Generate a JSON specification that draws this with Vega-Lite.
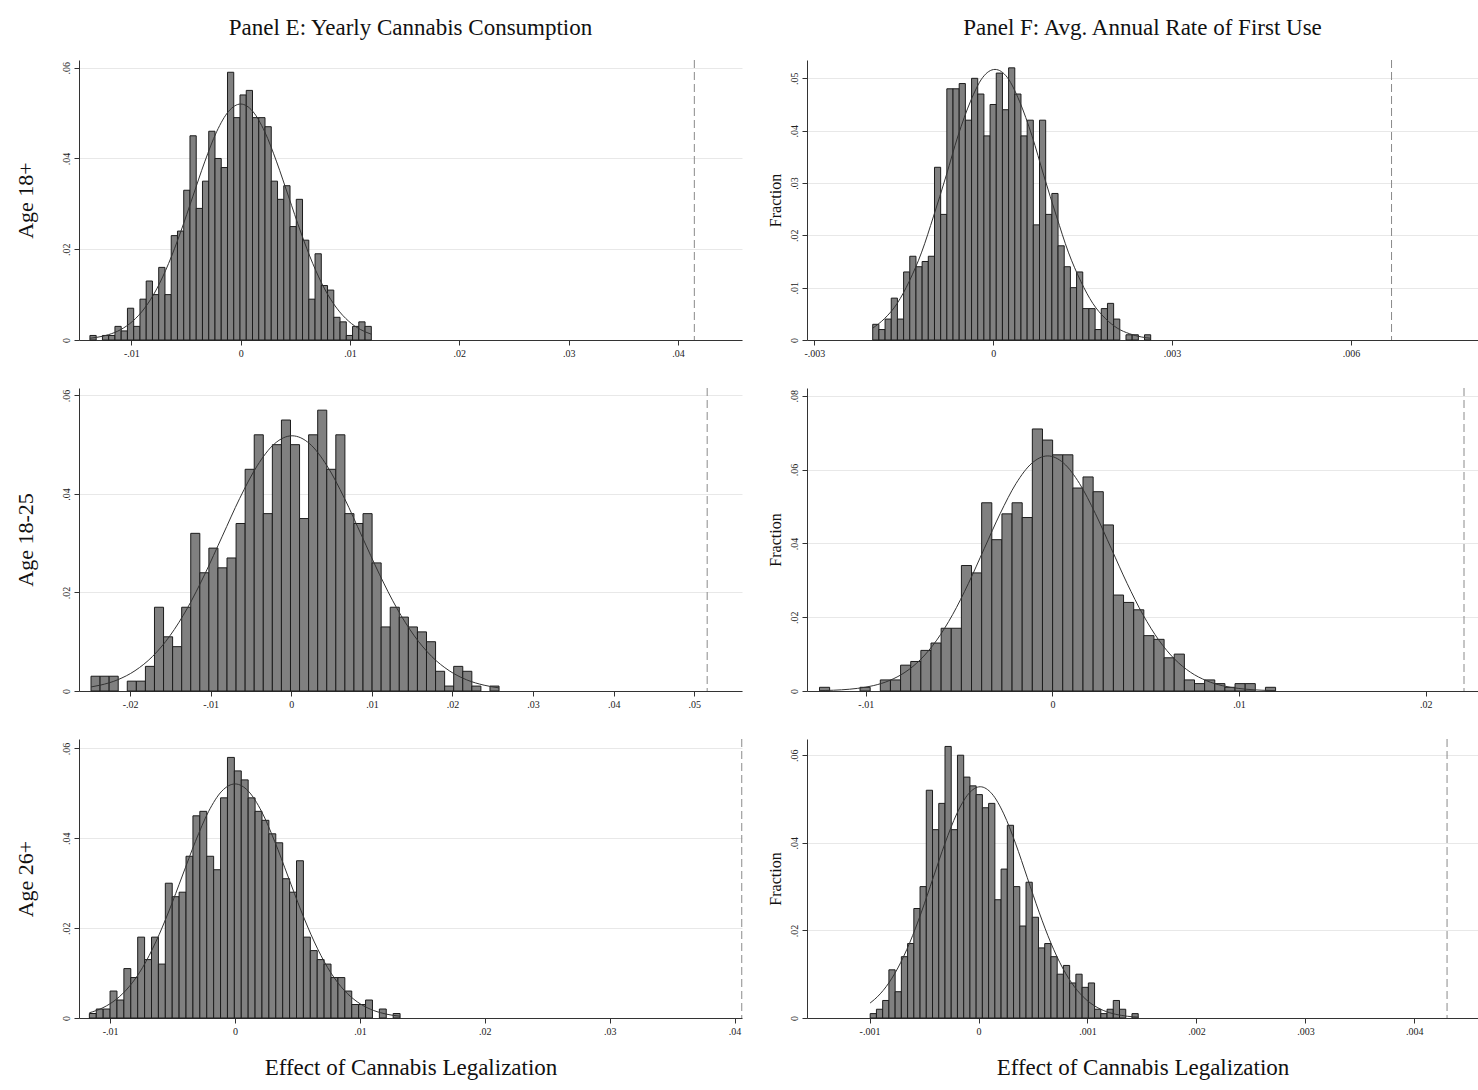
{
"$schema": "https://vega.github.io/schema/vega-lite/v6.json",
"background": "white",
"padding": {"left": 14, "top": 16, "right": 0, "bottom": 5},
"columns": 2,
"bounds": "flush",
"spacing": {"row": 48, "column": 65},
"resolve": {"scale": {"x": "independent", "y": "independent"}},
"config": {
  "view": {"stroke": null},
  "font": "Liberation Serif",
  "axis": {"labelFont": "Liberation Serif", "labelFontSize": 10, "labelColor": "#222", "titleFont": "Liberation Serif", "titleFontWeight": "normal", "titleColor": "#111", "domainColor": "#333", "tickColor": "#333", "tickSize": 5, "grid": false, "labelFlush": false, "labelOverlap": false,
    "labelExpr": "datum.value == 0 ? '0' : (datum.value < 0 ? '-' : '') + replace(format(abs(datum.value), '~g'), '0.', '.')"},
  "axisY": {"grid": true, "gridColor": "#e8e8e8", "labelAngle": 270, "labelAlign": "center", "labelBaseline": "bottom", "labelPadding": 3},
  "axisX": {"labelPadding": 3}
},
"datasets": {
"e1": [
{"lo":-0.013790,"hi":-0.013218,"frac":0.001},{"lo":-0.012646,"hi":-0.012074,"frac":0.001},{"lo":-0.012074,"hi":-0.011502,"frac":0.001},{"lo":-0.011502,"hi":-0.010930,"frac":0.003},{"lo":-0.010930,"hi":-0.010358,"frac":0.002},{"lo":-0.010358,"hi":-0.009786,"frac":0.007},{"lo":-0.009786,"hi":-0.009214,"frac":0.003},{"lo":-0.009214,"hi":-0.008642,"frac":0.009},{"lo":-0.008642,"hi":-0.008070,"frac":0.013},{"lo":-0.008070,"hi":-0.007498,"frac":0.010},{"lo":-0.007498,"hi":-0.006926,"frac":0.016},{"lo":-0.006926,"hi":-0.006354,"frac":0.010},{"lo":-0.006354,"hi":-0.005782,"frac":0.023},{"lo":-0.005782,"hi":-0.005210,"frac":0.024},{"lo":-0.005210,"hi":-0.004638,"frac":0.033},{"lo":-0.004638,"hi":-0.004066,"frac":0.045},{"lo":-0.004066,"hi":-0.003494,"frac":0.029},{"lo":-0.003494,"hi":-0.002922,"frac":0.035},{"lo":-0.002922,"hi":-0.002350,"frac":0.046},{"lo":-0.002350,"hi":-0.001778,"frac":0.040},{"lo":-0.001778,"hi":-0.001206,"frac":0.038},{"lo":-0.001206,"hi":-0.000634,"frac":0.059},{"lo":-0.000634,"hi":-0.000062,"frac":0.049},{"lo":-0.000062,"hi":0.000510,"frac":0.054},{"lo":0.000510,"hi":0.001082,"frac":0.055},{"lo":0.001082,"hi":0.001654,"frac":0.049},{"lo":0.001654,"hi":0.002226,"frac":0.049},{"lo":0.002226,"hi":0.002798,"frac":0.047},{"lo":0.002798,"hi":0.003370,"frac":0.035},{"lo":0.003370,"hi":0.003942,"frac":0.031},{"lo":0.003942,"hi":0.004514,"frac":0.034},{"lo":0.004514,"hi":0.005086,"frac":0.025},{"lo":0.005086,"hi":0.005658,"frac":0.031},{"lo":0.005658,"hi":0.006230,"frac":0.022},{"lo":0.006230,"hi":0.006802,"frac":0.009},{"lo":0.006802,"hi":0.007374,"frac":0.019},{"lo":0.007374,"hi":0.007946,"frac":0.012},{"lo":0.007946,"hi":0.008518,"frac":0.011},{"lo":0.008518,"hi":0.009090,"frac":0.005},{"lo":0.009090,"hi":0.009662,"frac":0.004},{"lo":0.009662,"hi":0.010234,"frac":0.001},{"lo":0.010234,"hi":0.010806,"frac":0.003},{"lo":0.010806,"hi":0.011378,"frac":0.004},{"lo":0.011378,"hi":0.011950,"frac":0.003}
],
"e1n": [
{"x":-0.01379,"y":0.00038},{"x":-0.01317,"y":0.00058},{"x":-0.01207,"y":0.00119},{"x":-0.01098,"y":0.00228},{"x":-0.00988,"y":0.00414},{"x":-0.00878,"y":0.00704},{"x":-0.00768,"y":0.01125},{"x":-0.00659,"y":0.01688},{"x":-0.00549,"y":0.02381},{"x":-0.00439,"y":0.03154},{"x":-0.00329,"y":0.03925},{"x":-0.00220,"y":0.04589},{"x":-0.00110,"y":0.05040},{"x":0.0,"y":0.052},{"x":0.00110,"y":0.05040},{"x":0.00220,"y":0.04589},{"x":0.00329,"y":0.03925},{"x":0.00439,"y":0.03154},{"x":0.00549,"y":0.02381},{"x":0.00659,"y":0.01688},{"x":0.00768,"y":0.01125},{"x":0.00878,"y":0.00704},{"x":0.00988,"y":0.00414},{"x":0.01098,"y":0.00228},{"x":0.01195,"y":0.00128}
],
"f1": [
{"lo":-0.0020210,"hi":-0.0019174,"frac":0.003},{"lo":-0.0019174,"hi":-0.0018138,"frac":0.002},{"lo":-0.0018138,"hi":-0.0017102,"frac":0.004},{"lo":-0.0017102,"hi":-0.0016066,"frac":0.008},{"lo":-0.0016066,"hi":-0.0015030,"frac":0.004},{"lo":-0.0015030,"hi":-0.0013994,"frac":0.013},{"lo":-0.0013994,"hi":-0.0012958,"frac":0.016},{"lo":-0.0012958,"hi":-0.0011922,"frac":0.014},{"lo":-0.0011922,"hi":-0.0010886,"frac":0.015},{"lo":-0.0010886,"hi":-0.0009850,"frac":0.016},{"lo":-0.0009850,"hi":-0.0008814,"frac":0.033},{"lo":-0.0008814,"hi":-0.0007778,"frac":0.024},{"lo":-0.0007778,"hi":-0.0006742,"frac":0.048},{"lo":-0.0006742,"hi":-0.0005706,"frac":0.048},{"lo":-0.0005706,"hi":-0.0004670,"frac":0.049},{"lo":-0.0004670,"hi":-0.0003634,"frac":0.042},{"lo":-0.0003634,"hi":-0.0002598,"frac":0.050},{"lo":-0.0002598,"hi":-0.0001562,"frac":0.047},{"lo":-0.0001562,"hi":-0.0000526,"frac":0.039},{"lo":-0.0000526,"hi":0.0000510,"frac":0.045},{"lo":0.0000510,"hi":0.0001546,"frac":0.051},{"lo":0.0001546,"hi":0.0002582,"frac":0.044},{"lo":0.0002582,"hi":0.0003618,"frac":0.052},{"lo":0.0003618,"hi":0.0004654,"frac":0.047},{"lo":0.0004654,"hi":0.0005690,"frac":0.039},{"lo":0.0005690,"hi":0.0006726,"frac":0.042},{"lo":0.0006726,"hi":0.0007762,"frac":0.022},{"lo":0.0007762,"hi":0.0008798,"frac":0.042},{"lo":0.0008798,"hi":0.0009834,"frac":0.024},{"lo":0.0009834,"hi":0.0010870,"frac":0.028},{"lo":0.0010870,"hi":0.0011906,"frac":0.018},{"lo":0.0011906,"hi":0.0012942,"frac":0.014},{"lo":0.0012942,"hi":0.0013978,"frac":0.010},{"lo":0.0013978,"hi":0.0015014,"frac":0.013},{"lo":0.0015014,"hi":0.0016050,"frac":0.006},{"lo":0.0016050,"hi":0.0017086,"frac":0.006},{"lo":0.0017086,"hi":0.0018122,"frac":0.002},{"lo":0.0018122,"hi":0.0019158,"frac":0.006},{"lo":0.0019158,"hi":0.0020194,"frac":0.007},{"lo":0.0020194,"hi":0.0021230,"frac":0.004},{"lo":0.0022266,"hi":0.0023302,"frac":0.001},{"lo":0.0023302,"hi":0.0024338,"frac":0.001},{"lo":0.0025374,"hi":0.0026410,"frac":0.001}
],
"f1n": [
{"x":-0.00202,"y":0.00227},{"x":-0.00182,"y":0.00412},{"x":-0.00161,"y":0.00700},{"x":-0.00141,"y":0.01118},{"x":-0.00120,"y":0.01679},{"x":-0.00100,"y":0.02367},{"x":-0.00079,"y":0.03136},{"x":-0.00059,"y":0.03902},{"x":-0.00038,"y":0.04563},{"x":-0.00018,"y":0.05011},{"x":0.00003,"y":0.0517},{"x":0.00024,"y":0.05011},{"x":0.00044,"y":0.04563},{"x":0.00065,"y":0.03902},{"x":0.00085,"y":0.03136},{"x":0.00106,"y":0.02367},{"x":0.00126,"y":0.01679},{"x":0.00147,"y":0.01118},{"x":0.00167,"y":0.00700},{"x":0.00188,"y":0.00412},{"x":0.00208,"y":0.00227},{"x":0.00229,"y":0.00118},{"x":0.00249,"y":0.00057},{"x":0.00264,"y":0.00033}
],
"e2": [
{"lo":-0.024850,"hi":-0.023725,"frac":0.003},{"lo":-0.023725,"hi":-0.022600,"frac":0.003},{"lo":-0.022600,"hi":-0.021475,"frac":0.003},{"lo":-0.020350,"hi":-0.019225,"frac":0.002},{"lo":-0.019225,"hi":-0.018100,"frac":0.002},{"lo":-0.018100,"hi":-0.016975,"frac":0.005},{"lo":-0.016975,"hi":-0.015850,"frac":0.017},{"lo":-0.015850,"hi":-0.014725,"frac":0.011},{"lo":-0.014725,"hi":-0.013600,"frac":0.009},{"lo":-0.013600,"hi":-0.012475,"frac":0.017},{"lo":-0.012475,"hi":-0.011350,"frac":0.032},{"lo":-0.011350,"hi":-0.010225,"frac":0.024},{"lo":-0.010225,"hi":-0.009100,"frac":0.029},{"lo":-0.009100,"hi":-0.007975,"frac":0.025},{"lo":-0.007975,"hi":-0.006850,"frac":0.027},{"lo":-0.006850,"hi":-0.005725,"frac":0.034},{"lo":-0.005725,"hi":-0.004600,"frac":0.045},{"lo":-0.004600,"hi":-0.003475,"frac":0.052},{"lo":-0.003475,"hi":-0.002350,"frac":0.036},{"lo":-0.002350,"hi":-0.001225,"frac":0.050},{"lo":-0.001225,"hi":-0.000100,"frac":0.055},{"lo":-0.000100,"hi":0.001025,"frac":0.050},{"lo":0.001025,"hi":0.002150,"frac":0.035},{"lo":0.002150,"hi":0.003275,"frac":0.052},{"lo":0.003275,"hi":0.004400,"frac":0.057},{"lo":0.004400,"hi":0.005525,"frac":0.045},{"lo":0.005525,"hi":0.006650,"frac":0.052},{"lo":0.006650,"hi":0.007775,"frac":0.036},{"lo":0.007775,"hi":0.008900,"frac":0.034},{"lo":0.008900,"hi":0.010025,"frac":0.036},{"lo":0.010025,"hi":0.011150,"frac":0.026},{"lo":0.011150,"hi":0.012275,"frac":0.013},{"lo":0.012275,"hi":0.013400,"frac":0.017},{"lo":0.013400,"hi":0.014525,"frac":0.015},{"lo":0.014525,"hi":0.015650,"frac":0.013},{"lo":0.015650,"hi":0.016775,"frac":0.012},{"lo":0.016775,"hi":0.017900,"frac":0.010},{"lo":0.017900,"hi":0.019025,"frac":0.004},{"lo":0.019025,"hi":0.020150,"frac":0.001},{"lo":0.020150,"hi":0.021275,"frac":0.005},{"lo":0.021275,"hi":0.022400,"frac":0.004},{"lo":0.022400,"hi":0.023525,"frac":0.001},{"lo":0.024650,"hi":0.025775,"frac":0.001}
],
"e2n": [
{"x":-0.02485,"y":0.00082},{"x":-0.02372,"y":0.00118},{"x":-0.02155,"y":0.00227},{"x":-0.01939,"y":0.00412},{"x":-0.01722,"y":0.00701},{"x":-0.01506,"y":0.01120},{"x":-0.01289,"y":0.01682},{"x":-0.01073,"y":0.02371},{"x":-0.00856,"y":0.03142},{"x":-0.00640,"y":0.03910},{"x":-0.00423,"y":0.04571},{"x":-0.00207,"y":0.05020},{"x":0.0001,"y":0.0518},{"x":0.00227,"y":0.05020},{"x":0.00443,"y":0.04571},{"x":0.00660,"y":0.03910},{"x":0.00876,"y":0.03142},{"x":0.01093,"y":0.02371},{"x":0.01309,"y":0.01682},{"x":0.01526,"y":0.01120},{"x":0.01742,"y":0.00701},{"x":0.01959,"y":0.00412},{"x":0.02175,"y":0.00227},{"x":0.02392,"y":0.00118},{"x":0.02578,"y":0.00063}
],
"f2": [
{"lo":-0.012480,"hi":-0.011937,"frac":0.001},{"lo":-0.010308,"hi":-0.009765,"frac":0.001},{"lo":-0.009222,"hi":-0.008679,"frac":0.003},{"lo":-0.008679,"hi":-0.008136,"frac":0.003},{"lo":-0.008136,"hi":-0.007593,"frac":0.007},{"lo":-0.007593,"hi":-0.007050,"frac":0.008},{"lo":-0.007050,"hi":-0.006507,"frac":0.011},{"lo":-0.006507,"hi":-0.005964,"frac":0.013},{"lo":-0.005964,"hi":-0.005421,"frac":0.017},{"lo":-0.005421,"hi":-0.004878,"frac":0.017},{"lo":-0.004878,"hi":-0.004335,"frac":0.034},{"lo":-0.004335,"hi":-0.003792,"frac":0.032},{"lo":-0.003792,"hi":-0.003249,"frac":0.051},{"lo":-0.003249,"hi":-0.002706,"frac":0.041},{"lo":-0.002706,"hi":-0.002163,"frac":0.048},{"lo":-0.002163,"hi":-0.001620,"frac":0.051},{"lo":-0.001620,"hi":-0.001077,"frac":0.047},{"lo":-0.001077,"hi":-0.000534,"frac":0.071},{"lo":-0.000534,"hi":0.000009,"frac":0.068},{"lo":0.000009,"hi":0.000552,"frac":0.064},{"lo":0.000552,"hi":0.001095,"frac":0.064},{"lo":0.001095,"hi":0.001638,"frac":0.055},{"lo":0.001638,"hi":0.002181,"frac":0.058},{"lo":0.002181,"hi":0.002724,"frac":0.054},{"lo":0.002724,"hi":0.003267,"frac":0.045},{"lo":0.003267,"hi":0.003810,"frac":0.026},{"lo":0.003810,"hi":0.004353,"frac":0.024},{"lo":0.004353,"hi":0.004896,"frac":0.022},{"lo":0.004896,"hi":0.005439,"frac":0.015},{"lo":0.005439,"hi":0.005982,"frac":0.014},{"lo":0.005982,"hi":0.006525,"frac":0.009},{"lo":0.006525,"hi":0.007068,"frac":0.010},{"lo":0.007068,"hi":0.007611,"frac":0.003},{"lo":0.007611,"hi":0.008154,"frac":0.002},{"lo":0.008154,"hi":0.008697,"frac":0.003},{"lo":0.008697,"hi":0.009240,"frac":0.002},{"lo":0.009240,"hi":0.009783,"frac":0.001},{"lo":0.009783,"hi":0.010326,"frac":0.002},{"lo":0.010326,"hi":0.010869,"frac":0.002},{"lo":0.011412,"hi":0.011955,"frac":0.001}
],
"f2n": [
{"x":-0.01249,"y":0.0001},{"x":-0.01215,"y":0.00014},{"x":-0.01130,"y":0.00032},{"x":-0.01045,"y":0.00071},{"x":-0.00960,"y":0.00145},{"x":-0.00875,"y":0.00280},{"x":-0.00790,"y":0.00507},{"x":-0.00705,"y":0.00862},{"x":-0.00620,"y":0.01378},{"x":-0.00535,"y":0.02068},{"x":-0.00450,"y":0.02916},{"x":-0.00365,"y":0.03863},{"x":-0.00280,"y":0.04808},{"x":-0.00195,"y":0.05622},{"x":-0.00110,"y":0.06174},{"x":-0.00025,"y":0.0637},{"x":0.00060,"y":0.06174},{"x":0.00145,"y":0.05622},{"x":0.00230,"y":0.04808},{"x":0.00315,"y":0.03863},{"x":0.00400,"y":0.02916},{"x":0.00485,"y":0.02068},{"x":0.00570,"y":0.01378},{"x":0.00655,"y":0.00862},{"x":0.00740,"y":0.00507},{"x":0.00825,"y":0.00280},{"x":0.00910,"y":0.00145},{"x":0.00995,"y":0.00071},{"x":0.01080,"y":0.00032},{"x":0.01165,"y":0.00014},{"x":0.01195,"y":0.0001}
],
"e3": [
{"lo":-0.011670,"hi":-0.011117,"frac":0.001},{"lo":-0.011117,"hi":-0.010564,"frac":0.002},{"lo":-0.010564,"hi":-0.010011,"frac":0.002},{"lo":-0.010011,"hi":-0.009458,"frac":0.006},{"lo":-0.009458,"hi":-0.008905,"frac":0.004},{"lo":-0.008905,"hi":-0.008352,"frac":0.011},{"lo":-0.008352,"hi":-0.007799,"frac":0.009},{"lo":-0.007799,"hi":-0.007246,"frac":0.018},{"lo":-0.007246,"hi":-0.006693,"frac":0.013},{"lo":-0.006693,"hi":-0.006140,"frac":0.018},{"lo":-0.006140,"hi":-0.005587,"frac":0.012},{"lo":-0.005587,"hi":-0.005034,"frac":0.030},{"lo":-0.005034,"hi":-0.004481,"frac":0.027},{"lo":-0.004481,"hi":-0.003928,"frac":0.028},{"lo":-0.003928,"hi":-0.003375,"frac":0.036},{"lo":-0.003375,"hi":-0.002822,"frac":0.045},{"lo":-0.002822,"hi":-0.002269,"frac":0.046},{"lo":-0.002269,"hi":-0.001716,"frac":0.036},{"lo":-0.001716,"hi":-0.001163,"frac":0.033},{"lo":-0.001163,"hi":-0.000610,"frac":0.049},{"lo":-0.000610,"hi":-0.000057,"frac":0.058},{"lo":-0.000057,"hi":0.000496,"frac":0.055},{"lo":0.000496,"hi":0.001049,"frac":0.053},{"lo":0.001049,"hi":0.001602,"frac":0.049},{"lo":0.001602,"hi":0.002155,"frac":0.046},{"lo":0.002155,"hi":0.002708,"frac":0.044},{"lo":0.002708,"hi":0.003261,"frac":0.041},{"lo":0.003261,"hi":0.003814,"frac":0.039},{"lo":0.003814,"hi":0.004367,"frac":0.031},{"lo":0.004367,"hi":0.004920,"frac":0.028},{"lo":0.004920,"hi":0.005473,"frac":0.035},{"lo":0.005473,"hi":0.006026,"frac":0.018},{"lo":0.006026,"hi":0.006579,"frac":0.015},{"lo":0.006579,"hi":0.007132,"frac":0.013},{"lo":0.007132,"hi":0.007685,"frac":0.012},{"lo":0.007685,"hi":0.008238,"frac":0.009},{"lo":0.008238,"hi":0.008791,"frac":0.009},{"lo":0.008791,"hi":0.009344,"frac":0.006},{"lo":0.009344,"hi":0.009897,"frac":0.003},{"lo":0.009897,"hi":0.010450,"frac":0.003},{"lo":0.010450,"hi":0.011003,"frac":0.004},{"lo":0.011556,"hi":0.012109,"frac":0.002},{"lo":0.012662,"hi":0.013215,"frac":0.001}
],
"e3n": [
{"x":-0.01167,"y":0.00116},{"x":-0.01058,"y":0.00229},{"x":-0.00952,"y":0.00415},{"x":-0.00846,"y":0.00705},{"x":-0.00740,"y":0.01127},{"x":-0.00635,"y":0.01692},{"x":-0.00529,"y":0.02385},{"x":-0.00423,"y":0.03160},{"x":-0.00317,"y":0.03933},{"x":-0.00212,"y":0.04598},{"x":-0.00106,"y":0.05050},{"x":0.0,"y":0.0521},{"x":0.00106,"y":0.05050},{"x":0.00212,"y":0.04598},{"x":0.00317,"y":0.03933},{"x":0.00423,"y":0.03160},{"x":0.00529,"y":0.02385},{"x":0.00635,"y":0.01692},{"x":0.00740,"y":0.01127},{"x":0.00846,"y":0.00705},{"x":0.00952,"y":0.00415},{"x":0.01058,"y":0.00229},{"x":0.01163,"y":0.00119},{"x":0.01269,"y":0.00058},{"x":0.01322,"y":0.0004}
],
"f3": [
{"lo":-0.0009940,"hi":-0.0009368,"frac":0.001},{"lo":-0.0009368,"hi":-0.0008796,"frac":0.002},{"lo":-0.0008796,"hi":-0.0008224,"frac":0.004},{"lo":-0.0008224,"hi":-0.0007652,"frac":0.011},{"lo":-0.0007652,"hi":-0.0007080,"frac":0.006},{"lo":-0.0007080,"hi":-0.0006508,"frac":0.014},{"lo":-0.0006508,"hi":-0.0005936,"frac":0.017},{"lo":-0.0005936,"hi":-0.0005364,"frac":0.025},{"lo":-0.0005364,"hi":-0.0004792,"frac":0.030},{"lo":-0.0004792,"hi":-0.0004220,"frac":0.052},{"lo":-0.0004220,"hi":-0.0003648,"frac":0.043},{"lo":-0.0003648,"hi":-0.0003076,"frac":0.049},{"lo":-0.0003076,"hi":-0.0002504,"frac":0.062},{"lo":-0.0002504,"hi":-0.0001932,"frac":0.043},{"lo":-0.0001932,"hi":-0.0001360,"frac":0.060},{"lo":-0.0001360,"hi":-0.0000788,"frac":0.055},{"lo":-0.0000788,"hi":-0.0000216,"frac":0.053},{"lo":-0.0000216,"hi":0.0000356,"frac":0.051},{"lo":0.0000356,"hi":0.0000928,"frac":0.048},{"lo":0.0000928,"hi":0.0001500,"frac":0.049},{"lo":0.0001500,"hi":0.0002072,"frac":0.027},{"lo":0.0002072,"hi":0.0002644,"frac":0.034},{"lo":0.0002644,"hi":0.0003216,"frac":0.044},{"lo":0.0003216,"hi":0.0003788,"frac":0.030},{"lo":0.0003788,"hi":0.0004360,"frac":0.021},{"lo":0.0004360,"hi":0.0004932,"frac":0.031},{"lo":0.0004932,"hi":0.0005504,"frac":0.023},{"lo":0.0005504,"hi":0.0006076,"frac":0.016},{"lo":0.0006076,"hi":0.0006648,"frac":0.017},{"lo":0.0006648,"hi":0.0007220,"frac":0.014},{"lo":0.0007220,"hi":0.0007792,"frac":0.010},{"lo":0.0007792,"hi":0.0008364,"frac":0.012},{"lo":0.0008364,"hi":0.0008936,"frac":0.008},{"lo":0.0008936,"hi":0.0009508,"frac":0.010},{"lo":0.0009508,"hi":0.0010080,"frac":0.007},{"lo":0.0010080,"hi":0.0010652,"frac":0.008},{"lo":0.0010652,"hi":0.0011224,"frac":0.002},{"lo":0.0011224,"hi":0.0011796,"frac":0.001},{"lo":0.0011796,"hi":0.0012368,"frac":0.002},{"lo":0.0012368,"hi":0.0012940,"frac":0.004},{"lo":0.0012940,"hi":0.0013512,"frac":0.002},{"lo":0.0014084,"hi":0.0014656,"frac":0.001}
],
"f3n": [
{"x":-0.000995,"y":0.00341},{"x":-0.000956,"y":0.0042},{"x":-0.000848,"y":0.00714},{"x":-0.000740,"y":0.01142},{"x":-0.000632,"y":0.01714},{"x":-0.000524,"y":0.02417},{"x":-0.000416,"y":0.03202},{"x":-0.000308,"y":0.03985},{"x":-0.000200,"y":0.04660},{"x":-0.000092,"y":0.05117},{"x":0.000016,"y":0.0528},{"x":0.000124,"y":0.05117},{"x":0.000232,"y":0.04660},{"x":0.000340,"y":0.03985},{"x":0.000448,"y":0.03202},{"x":0.000556,"y":0.02417},{"x":0.000664,"y":0.01714},{"x":0.000772,"y":0.01142},{"x":0.000880,"y":0.00714},{"x":0.000988,"y":0.00420},{"x":0.001096,"y":0.00232},{"x":0.001204,"y":0.00120},{"x":0.001312,"y":0.00059},{"x":0.001420,"y":0.00027},{"x":0.001468,"y":0.0002}
]
},
"concat": [
{
 "width": 663, "height": 280,
 "title": {"text": "Panel E: Yearly Cannabis Consumption", "fontSize": 23, "font": "Liberation Serif", "fontWeight": "normal", "color": "#111", "offset": 20},
 "layer": [
  {"data": {"name": "e1"}, "mark": {"type": "rect", "fill": "#808080", "stroke": "#1c1c1c", "strokeWidth": 1},
   "encoding": {
    "x": {"field": "lo", "type": "quantitative", "scale": {"domain": [-0.01479, 0.04586], "nice": false, "zero": false}, "axis": {"values": [-0.01, 0, 0.01, 0.02, 0.03, 0.04], "title": null}},
    "x2": {"field": "hi"},
    "y": {"field": "frac", "type": "quantitative", "scale": {"domain": [0, 0.0617], "nice": false}, "axis": {"values": [0, 0.02, 0.04, 0.06], "title": "Age 18+", "titleFontSize": 22, "titlePadding": 24}},
    "y2": {"datum": 0}}},
  {"data": {"name": "e1n"}, "mark": {"type": "line", "interpolate": "monotone", "stroke": "#333", "strokeWidth": 1},
   "encoding": {"x": {"field": "x", "type": "quantitative"}, "y": {"field": "y", "type": "quantitative"}}},
  {"data": {"values": [{"x": 0.0415}]}, "mark": {"type": "rule", "stroke": "#8a8a8a", "strokeDash": [8, 4], "strokeWidth": 1},
   "encoding": {"x": {"field": "x", "type": "quantitative"}}}
 ]
},
{
 "width": 671, "height": 280,
 "title": {"text": "Panel F: Avg. Annual Rate of First Use", "fontSize": 23, "font": "Liberation Serif", "fontWeight": "normal", "color": "#111", "offset": 20},
 "layer": [
  {"data": {"name": "f1"}, "mark": {"type": "rect", "fill": "#808080", "stroke": "#1c1c1c", "strokeWidth": 1},
   "encoding": {
    "x": {"field": "lo", "type": "quantitative", "scale": {"domain": [-0.003123, 0.00813], "nice": false, "zero": false}, "axis": {"values": [-0.003, 0, 0.003, 0.006], "title": null}},
    "x2": {"field": "hi"},
    "y": {"field": "frac", "type": "quantitative", "scale": {"domain": [0, 0.0535], "nice": false}, "axis": {"values": [0, 0.01, 0.02, 0.03, 0.04, 0.05], "title": "Fraction", "titleFontSize": 16, "titlePadding": 6}},
    "y2": {"datum": 0}}},
  {"data": {"name": "f1n"}, "mark": {"type": "line", "interpolate": "monotone", "stroke": "#333", "strokeWidth": 1},
   "encoding": {"x": {"field": "x", "type": "quantitative"}, "y": {"field": "y", "type": "quantitative"}}},
  {"data": {"values": [{"x": 0.00668}]}, "mark": {"type": "rule", "stroke": "#8a8a8a", "strokeDash": [8, 4], "strokeWidth": 1},
   "encoding": {"x": {"field": "x", "type": "quantitative"}}}
 ]
},
{
 "width": 663, "height": 303,
 "layer": [
  {"data": {"name": "e2"}, "mark": {"type": "rect", "fill": "#808080", "stroke": "#1c1c1c", "strokeWidth": 1},
   "encoding": {
    "x": {"field": "lo", "type": "quantitative", "scale": {"domain": [-0.02634, 0.05592], "nice": false, "zero": false}, "axis": {"values": [-0.02, -0.01, 0, 0.01, 0.02, 0.03, 0.04, 0.05], "title": null}},
    "x2": {"field": "hi"},
    "y": {"field": "frac", "type": "quantitative", "scale": {"domain": [0, 0.0615], "nice": false}, "axis": {"values": [0, 0.02, 0.04, 0.06], "title": "Age 18-25", "titleFontSize": 22, "titlePadding": 24}},
    "y2": {"datum": 0}}},
  {"data": {"name": "e2n"}, "mark": {"type": "line", "interpolate": "monotone", "stroke": "#333", "strokeWidth": 1},
   "encoding": {"x": {"field": "x", "type": "quantitative"}, "y": {"field": "y", "type": "quantitative"}}},
  {"data": {"values": [{"x": 0.0516}]}, "mark": {"type": "rule", "stroke": "#8a8a8a", "strokeDash": [8, 4], "strokeWidth": 1},
   "encoding": {"x": {"field": "x", "type": "quantitative"}}}
 ]
},
{
 "width": 671, "height": 303,
 "layer": [
  {"data": {"name": "f2"}, "mark": {"type": "rect", "fill": "#808080", "stroke": "#1c1c1c", "strokeWidth": 1},
   "encoding": {
    "x": {"field": "lo", "type": "quantitative", "scale": {"domain": [-0.01315, 0.0228], "nice": false, "zero": false}, "axis": {"values": [-0.01, 0, 0.01, 0.02], "title": null}},
    "x2": {"field": "hi"},
    "y": {"field": "frac", "type": "quantitative", "scale": {"domain": [0, 0.0821], "nice": false}, "axis": {"values": [0, 0.02, 0.04, 0.06, 0.08], "title": "Fraction", "titleFontSize": 16, "titlePadding": 6}},
    "y2": {"datum": 0}}},
  {"data": {"name": "f2n"}, "mark": {"type": "line", "interpolate": "monotone", "stroke": "#333", "strokeWidth": 1},
   "encoding": {"x": {"field": "x", "type": "quantitative"}, "y": {"field": "y", "type": "quantitative"}}},
  {"data": {"values": [{"x": 0.02205}]}, "mark": {"type": "rule", "stroke": "#8a8a8a", "strokeDash": [8, 4], "strokeWidth": 1},
   "encoding": {"x": {"field": "x", "type": "quantitative"}}}
 ]
},
{
 "width": 663, "height": 279,
 "layer": [
  {"data": {"name": "e3"}, "mark": {"type": "rect", "fill": "#808080", "stroke": "#1c1c1c", "strokeWidth": 1},
   "encoding": {
    "x": {"field": "lo", "type": "quantitative", "scale": {"domain": [-0.0125, 0.0406], "nice": false, "zero": false}, "axis": {"values": [-0.01, 0, 0.01, 0.02, 0.03, 0.04], "title": "Effect of Cannabis Legalization", "titleFontSize": 23, "titlePadding": 20}},
    "x2": {"field": "hi"},
    "y": {"field": "frac", "type": "quantitative", "scale": {"domain": [0, 0.0621], "nice": false}, "axis": {"values": [0, 0.02, 0.04, 0.06], "title": "Age 26+", "titleFontSize": 22, "titlePadding": 24}},
    "y2": {"datum": 0}}},
  {"data": {"name": "e3n"}, "mark": {"type": "line", "interpolate": "monotone", "stroke": "#333", "strokeWidth": 1},
   "encoding": {"x": {"field": "x", "type": "quantitative"}, "y": {"field": "y", "type": "quantitative"}}},
  {"data": {"values": [{"x": 0.04058}]}, "mark": {"type": "rule", "stroke": "#8a8a8a", "strokeDash": [8, 4], "strokeWidth": 1},
   "encoding": {"x": {"field": "x", "type": "quantitative"}}}
 ]
},
{
 "width": 671, "height": 279,
 "layer": [
  {"data": {"name": "f3"}, "mark": {"type": "rect", "fill": "#808080", "stroke": "#1c1c1c", "strokeWidth": 1},
   "encoding": {
    "x": {"field": "lo", "type": "quantitative", "scale": {"domain": [-0.001574, 0.004584], "nice": false, "zero": false}, "axis": {"values": [-0.001, 0, 0.001, 0.002, 0.003, 0.004], "title": "Effect of Cannabis Legalization", "titleFontSize": 23, "titlePadding": 20}},
    "x2": {"field": "hi"},
    "y": {"field": "frac", "type": "quantitative", "scale": {"domain": [0, 0.0637], "nice": false}, "axis": {"values": [0, 0.02, 0.04, 0.06], "title": "Fraction", "titleFontSize": 16, "titlePadding": 6}},
    "y2": {"datum": 0}}},
  {"data": {"name": "f3n"}, "mark": {"type": "line", "interpolate": "monotone", "stroke": "#333", "strokeWidth": 1},
   "encoding": {"x": {"field": "x", "type": "quantitative"}, "y": {"field": "y", "type": "quantitative"}}},
  {"data": {"values": [{"x": 0.0043}]}, "mark": {"type": "rule", "stroke": "#8a8a8a", "strokeDash": [8, 4], "strokeWidth": 1},
   "encoding": {"x": {"field": "x", "type": "quantitative"}}}
 ]
}
]
}
